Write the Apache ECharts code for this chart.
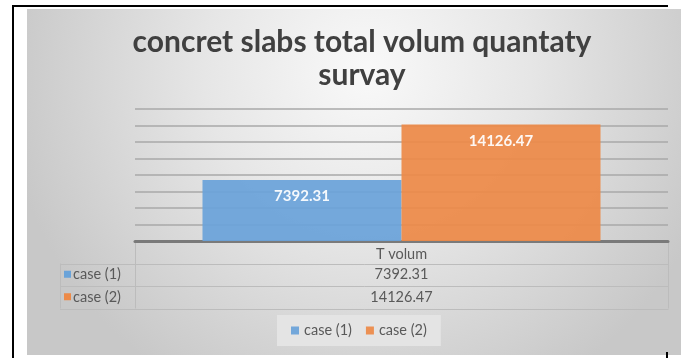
<!DOCTYPE html>
<html>
<head>
<meta charset="utf-8">
<script src="https://cdn.jsdelivr.net/npm/echarts@6/dist/echarts.min.js"></script>
<style>
  html, body { margin: 0; padding: 0; background: #ffffff; }
  #chart { width: 681px; height: 358px; }
</style>
</head>
<body>
<div id="chart"></div>
<script>
// Quantity survey data
const categories = ['T volum'];
const seriesNames = ['case (1)', 'case (2)'];
const case1Values = [7392.31];
const case2Values = [14126.47];
const seriesColors = ['#6aa3d9', '#ed8a48'];
const seriesValues = [case1Values, case2Values];

const FONT = 'Lato, "Open Sans", sans-serif';
const textGray = '#595959';
const tableLine = '#bcbcbc';

// Plot area layout
const plotLeft = 135, plotRight = 668, plotTop = 109, plotBottom = 241;
const rowH = 22.5;
const tableLeft = 60;
const centerX = 357;

const chart = echarts.init(document.getElementById('chart'));

// Data table below the plot: one row per series
const graphics = [
  // chart area background
  {
    type: 'rect', z: -10, silent: true,
    shape: { x: 27, y: 9, width: 654, height: 346 },
    style: {
      fill: {
        type: 'radial', x: 0.52, y: 0.18, r: 1.05,
        colorStops: [
          { offset: 0, color: '#f9f9f9' },
          { offset: 0.45, color: '#e6e6e6' },
          { offset: 1, color: '#c8c8c8' }
        ]
      }
    }
  },
  // page frame lines
  { type: 'rect', silent: true, shape: { x: 12, y: 5, width: 2, height: 353 }, style: { fill: '#000' } },
  { type: 'rect', silent: true, shape: { x: 12, y: 5, width: 656, height: 2 }, style: { fill: '#000' } },
  { type: 'rect', silent: true, shape: { x: 666, y: 352, width: 2, height: 6 }, style: { fill: '#000' } },
  // header cell borders
  { type: 'line', silent: true, shape: { x1: plotLeft + 0.5, y1: plotBottom, x2: plotLeft + 0.5, y2: plotBottom + rowH * 3 }, style: { stroke: tableLine, lineWidth: 1 } },
  { type: 'line', silent: true, shape: { x1: plotRight + 0.5, y1: plotBottom, x2: plotRight + 0.5, y2: plotBottom + rowH * 3 }, style: { stroke: tableLine, lineWidth: 1 } },
  { type: 'line', silent: true, shape: { x1: tableLeft + 0.5, y1: plotBottom + rowH, x2: tableLeft + 0.5, y2: plotBottom + rowH * 3 }, style: { stroke: tableLine, lineWidth: 1 } }
];

for (let r = 1; r <= 3; r++) {
  const y = Math.round(plotBottom + rowH * r) + 0.5;
  graphics.push({
    type: 'line', silent: true,
    shape: { x1: tableLeft, y1: y, x2: plotRight + 0.5, y2: y },
    style: { stroke: tableLine, lineWidth: 1 }
  });
}

seriesNames.forEach((name, i) => {
  const cy = plotBottom + rowH * (i + 1) + rowH / 2;
  graphics.push({
    type: 'rect', silent: true,
    shape: { x: tableLeft + 4, y: cy - 4, width: 7, height: 7 },
    style: { fill: seriesColors[i] }
  });
  graphics.push({
    type: 'text', silent: true,
    style: {
      x: tableLeft + 13, y: cy, text: name, fill: textGray,
      font: '14.5px ' + FONT, textVerticalAlign: 'middle'
    }
  });
  graphics.push({
    type: 'text', silent: true,
    style: {
      x: (plotLeft + plotRight) / 2, y: cy, text: seriesValues[i][0].toFixed(2),
      fill: textGray, font: '14.5px ' + FONT,
      textAlign: 'center', textVerticalAlign: 'middle'
    }
  });
});

const option = {
  animation: false,
  textStyle: { fontFamily: FONT },
  title: {
    text: 'concret slabs total volum quantaty\nsurvay',
    left: centerX,
    textAlign: 'center',
    top: 21,
    textStyle: {
      fontFamily: FONT, fontWeight: 'bold', fontSize: 30,
      color: '#404040', lineHeight: 33
    }
  },
  legend: {
    data: seriesNames,
    bottom: 12,
    left: 277,
    icon: 'rect',
    itemWidth: 8,
    itemHeight: 8,
    itemGap: 14,
    padding: [8, 14, 8, 14],
    backgroundColor: '#e4e4e4',
    textStyle: { color: textGray, fontSize: 14.5, fontFamily: FONT }
  },
  grid: {
    left: plotLeft, right: 681 - plotRight, top: plotTop, bottom: 358 - plotBottom,
    containLabel: false
  },
  xAxis: {
    type: 'category',
    data: categories,
    axisLine: { lineStyle: { color: '#7a7a7a', width: 3 } },
    axisTick: { show: false },
    axisLabel: { color: textGray, fontSize: 14.5, margin: 6, fontFamily: FONT }
  },
  yAxis: {
    type: 'value',
    min: 0, max: 16000, interval: 2000,
    axisLabel: { show: false },
    axisLine: { show: false },
    axisTick: { show: false },
    splitLine: { lineStyle: { color: '#a8a8a8', width: 1.5 } }
  },
  series: seriesNames.map((name, i) => ({
    name,
    type: 'bar',
    data: seriesValues[i],
    barWidth: 199,
    barGap: '0%',
    itemStyle: { color: seriesColors[i], opacity: 0.93 },
    label: {
      show: true,
      position: 'insideTop',
      distance: 9,
      color: '#ffffff',
      fontWeight: 'bold',
      fontSize: 15,
      fontFamily: FONT,
      formatter: p => p.value.toFixed(2)
    }
  })),
  graphic: graphics
};

chart.setOption(option);
</script>
</body>
</html>
